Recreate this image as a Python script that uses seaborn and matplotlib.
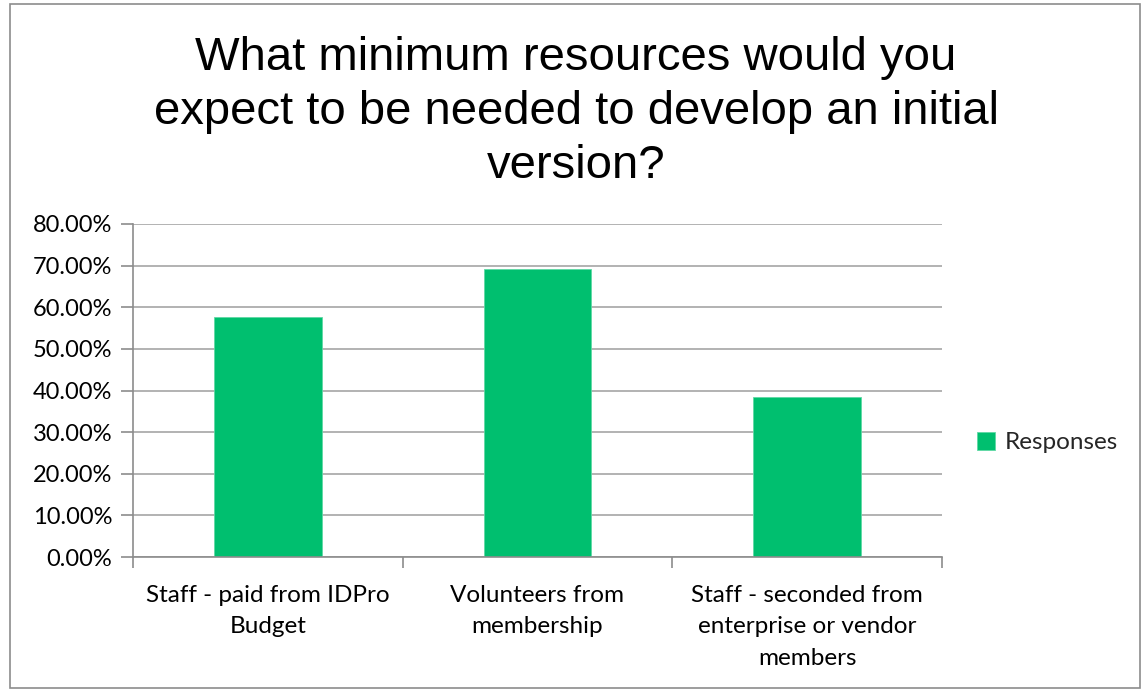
import matplotlib
matplotlib.use("Agg")
import matplotlib.pyplot as plt
import seaborn as sns
import pandas as pd
from matplotlib.patches import Rectangle
from matplotlib.ticker import FuncFormatter, FixedLocator

categories = ["Staff - paid from IDPro\nBudget", "Volunteers from\nmembership", "Staff - seconded from\nenterprise or vendor\nmembers"]
values = [57.69, 69.23, 38.46]
series_name = "Responses"
title = "What minimum resources would you\nexpect to be needed to develop an initial\nversion?"

df = pd.DataFrame({"category": categories, "value": values, "series": [series_name] * len(categories)})

sns.set_theme(style="white")
plt.rcParams["font.family"] = ["Lato", "DejaVu Sans"]

fig = plt.figure(figsize=(11.47, 6.91), dpi=100)
ax = fig.add_axes([133/1147, 1-557/691, (942-133)/1147, (557-224)/691])

sns.barplot(data=df, x="category", y="value", hue="series", palette=["#00BF6F"],
            width=0.4, ax=ax, saturation=1, edgecolor="#5fd9a5", linewidth=0.6)

ax.set_ylim(0, 80)
ax.set_xlim(-0.5, 2.5)
ax.set_yticks(range(0, 81, 10))
ax.yaxis.set_major_formatter(FuncFormatter(lambda v, p: f"{v:.2f}%"))
ax.grid(axis="y", color="#A6A6A6", linewidth=1.2)
ax.set_axisbelow(True)
ax.set_xlabel("")
ax.set_ylabel("")

for s in ["top", "right"]:
    ax.spines[s].set_visible(False)
for s in ["left", "bottom"]:
    ax.spines[s].set_color("#8C8C8C")
    ax.spines[s].set_linewidth(1.2)

ax.tick_params(axis="y", which="major", length=9, width=1.2, color="#8C8C8C", direction="out",
               labelsize=17, labelcolor="#000000", pad=6, left=True)
ax.tick_params(axis="x", which="major", length=0, labelsize=17.5, labelcolor="#000000", pad=20)
ax.xaxis.set_minor_locator(FixedLocator([-0.5, 0.5, 1.5, 2.5]))
ax.tick_params(axis="x", which="minor", length=8, width=1.2, color="#8C8C8C", direction="out", bottom=True)
for lbl in ax.get_xticklabels():
    lbl.set_linespacing(1.62)

leg = ax.legend(loc="center left", bbox_to_anchor=(1.016, 0.343), frameon=False, fontsize=17.5,
                handlelength=0.75, handleheight=0.75, handletextpad=0.4)

fig.text(576/1147, 1-112/691, title, ha="center", va="center", fontsize=34,
         family=["Liberation Sans", "DejaVu Sans"], linespacing=1.3, color="#000000")

fig.patches.append(Rectangle((10/1147, 3/691), (1140-10)/1147, (687-3)/691, transform=fig.transFigure,
                             fill=False, edgecolor="#8C8C8C", linewidth=1.2))

fig.savefig("out.png", dpi=100)
